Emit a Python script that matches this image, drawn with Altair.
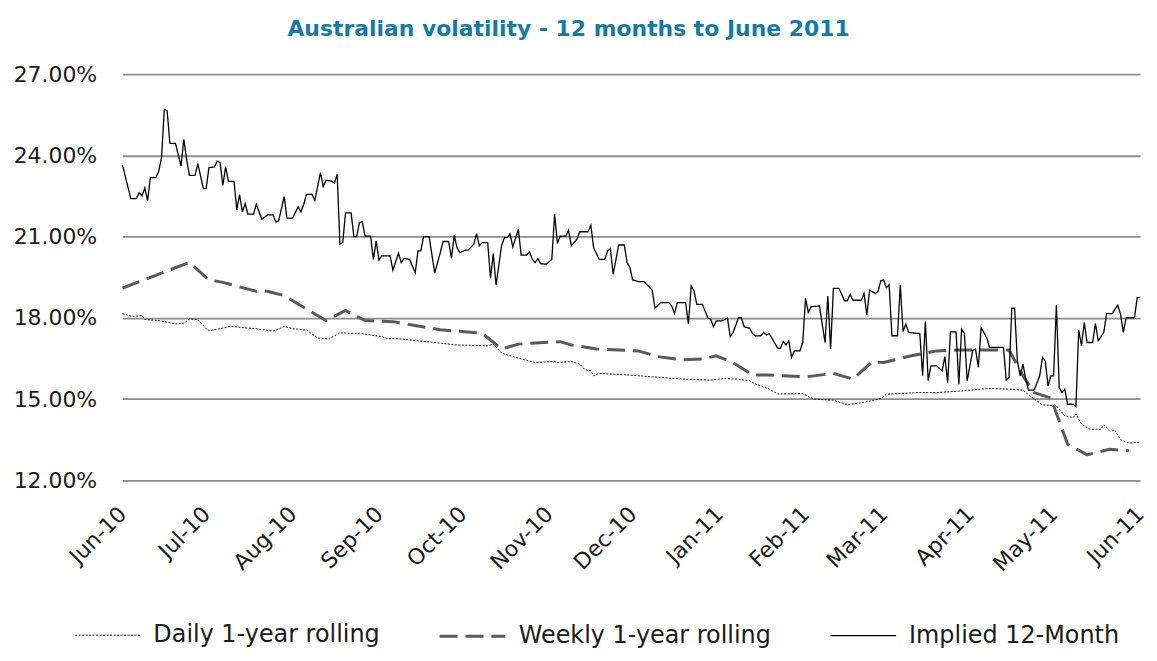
import altair as alt
import pandas as pd

START = "2010-06-01"
series_names = ["Daily 1-year rolling", "Weekly 1-year rolling", "Implied 12-Month"]

# days since 1 Jun 2010, volatility in %
daily_days = [0, 4, 7, 8, 13, 19, 22, 24, 27, 30, 31, 35, 39, 44, 48, 54, 58, 61, 66, 70, 74, 78, 86, 93, 95, 99,
              120, 131, 133, 136, 141, 148, 155, 156, 161, 164, 166, 168, 169, 171, 180, 189, 201, 211, 216, 220,
              225, 227, 232, 235, 244, 248, 255, 260, 266, 272, 274, 285, 292, 301, 310, 318, 323, 326, 330, 335,
              338, 341, 342, 344, 347, 351, 352, 354, 356, 358, 361, 365]
daily_vals = [18.15, 18.05, 18.09, 17.94, 17.90, 17.78, 17.80, 17.96, 17.94, 17.60, 17.53, 17.60, 17.69, 17.63,
              17.60, 17.51, 17.68, 17.60, 17.55, 17.26, 17.22, 17.45, 17.41, 17.31, 17.23, 17.23,
              17.00, 16.97, 17.03, 16.70, 16.54, 16.35, 16.39, 16.35, 16.39, 16.29, 16.08, 16.05, 15.86, 15.95,
              15.90, 15.83, 15.74, 15.70, 15.76, 15.74, 15.68, 15.56, 15.37, 15.19, 15.20, 15.00, 14.96, 14.79,
              14.88, 15.02, 15.18, 15.24, 15.24, 15.30, 15.39, 15.37, 15.33, 15.08, 14.79, 14.75, 14.38, 14.32,
              14.45, 14.08, 13.89, 13.89, 14.05, 13.85, 13.85, 13.50, 13.38, 13.40]

weekly_days = [0, 24, 31, 36, 48, 52, 58, 73, 80, 87, 97, 114, 127, 129, 136, 142, 148, 157, 161, 170, 185, 192,
               201, 208, 213, 219, 226, 232, 245, 255, 262, 269, 273, 283, 292, 299, 318, 323, 327, 333, 339, 346,
               354, 361]
weekly_vals = [19.10, 20.05, 19.40, 19.31, 18.98, 18.98, 18.82, 17.90, 18.27, 17.90, 17.86, 17.56, 17.45, 17.43,
               16.85, 17.03, 17.07, 17.12, 17.00, 16.85, 16.78, 16.57, 16.45, 16.48, 16.60, 16.35, 15.89, 15.89,
               15.82, 15.95, 15.74, 16.38, 16.35, 16.60, 16.78, 16.81, 16.81, 15.86, 15.24, 15.04, 13.34, 12.94,
               13.15, 13.09]

implied_days = [0, 3, 5, 6, 7, 8, 9, 10, 12, 13, 14, 15, 16, 17, 19, 21, 22, 23, 24, 26, 27, 28, 29, 30, 31, 33,
                34, 35, 36, 37, 38, 40, 41, 42, 43, 44, 45, 47, 48, 50, 52, 54, 55, 56, 58, 59, 61, 63, 64, 65,
                66, 68, 69, 71, 72, 73, 75, 76, 77, 78, 79, 80, 82, 83, 84, 85, 86, 87, 89, 90, 91, 92, 93, 96,
                97, 99, 100, 101, 103, 105, 106, 107, 108, 110, 112, 114, 115, 117, 118, 119, 120, 121, 123, 124,
                126, 127, 128, 129, 131, 132, 133, 134, 136, 137, 138, 139, 140, 142, 143, 145, 146, 147, 148, 149,
                150, 152, 154, 155, 156, 157, 159, 160, 161, 163, 164, 167, 168, 169, 171, 173, 174, 175, 176, 178,
                180, 181, 182, 183, 185, 187, 189, 190, 191, 193, 196, 197, 198, 199, 202, 203, 204, 205, 206, 208,
                210, 211, 212, 213, 215, 217, 218, 219, 221, 222, 223, 225, 226, 227, 229, 230, 231, 232, 235, 236,
                237, 238, 239, 240, 241, 243, 244, 245, 246, 247, 250, 252, 253, 254, 255, 257, 258, 259, 260, 261,
                262, 265, 266, 267, 268, 270, 271, 272, 273, 274, 275, 276, 278, 279, 280, 281, 282, 286, 287, 288,
                289, 290, 292, 294, 295, 296, 297, 299, 300, 301, 302, 303, 305, 306, 307, 308, 310, 311, 316, 317,
                318, 319, 320, 321, 322, 323, 324, 325, 327, 329, 330, 331, 332, 333, 334, 335, 336, 337, 338, 339,
                341, 342, 343, 344, 345, 346, 348, 349, 350, 352, 353, 355, 357, 358, 359, 360, 363, 364, 365]
implied_vals = [23.64, 22.40, 22.40, 22.62, 22.50, 22.80, 22.32, 23.18, 23.18, 23.42, 23.91, 25.70, 25.65, 24.44,
                24.44, 23.61, 24.59, 23.85, 23.26, 23.26, 23.69, 23.24, 22.77, 22.77, 23.55, 23.57, 23.79, 23.73,
                22.89, 23.58, 23.04, 23.04, 21.99, 22.55, 21.91, 22.22, 21.83, 21.83, 22.19, 21.64, 21.80, 21.80,
                21.54, 21.58, 22.48, 21.68, 21.68, 22.10, 21.91, 22.19, 22.56, 22.56, 22.34, 23.36, 22.85, 23.08,
                23.05, 22.97, 23.30, 20.72, 20.78, 21.88, 21.88, 21.00, 21.00, 21.52, 21.55, 21.02, 21.02, 20.16,
                20.84, 20.13, 20.29, 20.29, 19.76, 20.39, 20.04, 20.19, 20.16, 19.67, 20.47, 20.47, 21.00, 21.00,
                19.65, 20.41, 20.82, 20.82, 20.20, 21.05, 20.59, 20.41, 20.50, 20.50, 20.72, 21.11, 20.66, 20.78,
                20.78, 19.46, 20.37, 19.22, 20.68, 20.96, 20.96, 21.11, 20.62, 21.27, 20.32, 20.32, 20.43, 20.16,
                20.04, 20.19, 20.00, 19.98, 20.16, 21.82, 20.75, 21.02, 21.02, 21.23, 20.66, 20.90, 21.18, 21.18,
                21.42, 20.59, 20.16, 20.16, 20.47, 20.56, 19.61, 20.69, 20.69, 20.04, 19.86, 19.40, 19.34, 19.34,
                19.14, 19.02, 18.36, 18.56, 18.56, 18.44, 18.16, 18.56, 18.56, 17.77, 19.18, 19.00, 18.50, 18.50,
                17.99, 17.95, 17.67, 17.89, 17.89, 17.99, 17.30, 17.46, 18.01, 18.01, 17.67, 17.61, 17.42, 17.33,
                17.34, 17.46, 17.37, 17.42, 16.88, 16.88, 17.13, 17.00, 17.15, 16.54, 16.78, 16.78, 17.09, 18.72,
                18.20, 18.41, 18.44, 17.09, 18.81, 16.84, 19.09, 19.09, 18.87, 18.63, 18.63, 18.87, 18.65, 18.65,
                18.90, 18.11, 19.02, 18.90, 18.97, 19.37, 19.40, 19.12, 19.22, 17.34, 17.34, 19.21, 17.50, 17.77,
                17.46, 17.42, 15.86, 17.86, 15.68, 16.23, 16.23, 16.04, 16.57, 15.61, 17.48, 17.48, 15.55, 17.58,
                17.42, 15.68, 16.81, 16.84, 16.17, 17.64, 17.27, 16.91, 16.91, 15.71, 15.80, 18.36, 18.36, 16.41,
                15.86, 16.29, 15.74, 15.33, 15.33, 15.86, 16.54, 16.41, 15.49, 15.86, 15.86, 18.48, 15.43, 15.24,
                15.37, 14.81, 14.81, 14.72, 17.55, 16.97, 17.83, 17.09, 17.09, 17.79, 17.15, 17.46, 18.16, 18.16,
                18.47, 18.14, 17.46, 18.01, 18.01, 18.75, 18.75]

y_ticks = [12, 15, 18, 21, 24, 27]
month_ticks = ["2010-06-01", "2010-07-01", "2010-08-01", "2010-09-01", "2010-10-01", "2010-11-01",
               "2010-12-01", "2011-01-01", "2011-02-01", "2011-03-01", "2011-04-01", "2011-05-01",
               "2011-06-01"]

frames = []
for name, days, vals in [(series_names[0], daily_days, daily_vals),
                         (series_names[1], weekly_days, weekly_vals),
                         (series_names[2], implied_days, implied_vals)]:
    d = pd.Timestamp(START) + pd.to_timedelta(days, unit="D")
    frames.append(pd.DataFrame({"series": name, "date": d.strftime("%Y-%m-%d"), "value": vals}))
df = pd.concat(frames, ignore_index=True)


def dt(s):
    t = pd.Timestamp(s)
    return alt.DateTime(year=t.year, month=t.month, date=t.day)


FONT = "DejaVu Sans"

x_enc = alt.X("date:T",
              scale=alt.Scale(domain=[dt(month_ticks[0]), dt(month_ticks[-1])]),
              axis=alt.Axis(title=None, values=[dt(m) for m in month_ticks], format="%b-%y",
                            labelAngle=-45, labelAlign="right", labelBaseline="middle",
                            labelPadding=30, labelFontSize=22, labelFont=FONT, labelColor="#1a1a1a",
                            ticks=False, domain=False, grid=False, labelOverlap=False, labelBound=False))
y_enc = alt.Y("value:Q",
              scale=alt.Scale(domain=[12, 27], nice=False, zero=False),
              axis=alt.Axis(title=None, values=y_ticks,
                            labelExpr="format(datum.value, '.2f') + '%'",
                            labelFontSize=22, labelFont=FONT, labelColor="#1a1a1a", labelPadding=26,
                            ticks=False, domain=False, grid=True, gridColor="#8c8c8c", gridWidth=1.8))

styles = [
    # name, colour, dash, width, legend x (relative to plot left)
    (series_names[0], "#111111", [2, 1.5], 1.0, -48),
    (series_names[1], "#595959", [18, 8], 3.0, 317),
    (series_names[2], "#000000", [1, 0], 1.3, 710),
]

layers = []
for name, colour, dash, width, lx in styles:
    layers.append(
        alt.Chart(df).transform_filter(alt.datum.series == name).mark_line(
            interpolate="linear", strokeDash=dash, strokeWidth=width
        ).encode(
            x=x_enc, y=y_enc,
            color=alt.Color("series:N", scale=alt.Scale(domain=[name], range=[colour]),
                            legend=alt.Legend(title=None, orient="none", legendX=lx, legendY=530,
                                              symbolType="stroke", symbolSize=4356,
                                              symbolDash=dash, symbolStrokeWidth=width,
                                              labelFont=FONT, labelFontSize=24, labelColor="#1a1a1a",
                                              labelOffset=12, labelLimit=400, padding=0)),
        )
    )

chart = alt.layer(*layers).resolve_scale(color="independent").resolve_legend(color="independent").properties(
    width=1022, height=408,
    title=alt.TitleParams("Australian volatility - 12 months to June 2011",
                          font=FONT, fontSize=22, fontWeight="bold", color="#137BAA",
                          anchor="middle", dx=-63, baseline="alphabetic", offset=5),
    autosize=alt.AutoSizeParams(type="none"),
    padding={"left": 115, "top": 65, "right": 9, "bottom": 172},
).configure_view(stroke=None)

chart.save("out.html", embed_options={"renderer": "svg", "actions": False})
